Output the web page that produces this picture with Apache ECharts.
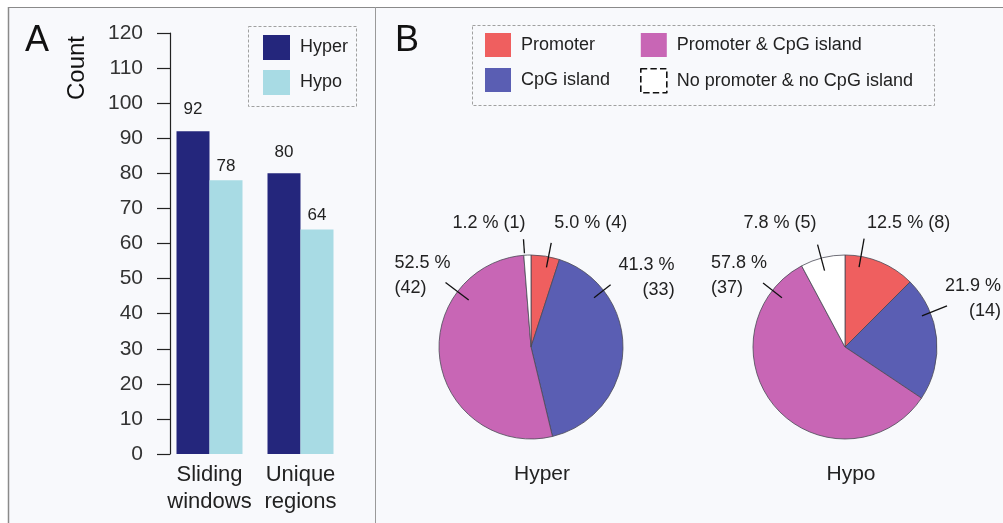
<!DOCTYPE html>
<html lang="en">
<head>
  <meta charset="UTF-8">
  <title>Hyper / Hypo regions</title>
  <script type="text/javascript" src="https://cdn.jsdelivr.net/npm/echarts@6/dist/echarts.min.js"></script>
  <style type="text/css">
    * {
      margin: 0;
      padding: 0;
    }

    html, body {
      width: 100%;
      height: 100%;
      background-color: #fff;
    }

    #chart {
      width: 1003px;
      height: 523px;
    }
  </style>
</head>

<body>
<div id="chart"></div>
</body>
<script type="text/javascript">
  // panel A: counts
  var barCategories = ['Sliding\nwindows', 'Unique\nregions'];
  var hyperCounts = [92, 80];
  var hypoCounts = [78, 64];

  // panel B: region types
  var regionTypes = ['Promoter', 'CpG island', 'Promoter & CpG island', 'No promoter & no CpG island'];
  var hyperRegions = [4, 33, 42, 1];
  var hypoRegions = [8, 14, 37, 5];

  var pieColors = ['#ef5f5f', '#5a5eb3', '#c866b5', '#ffffff'];
  var pieCenters = [[531, 347], [845, 347]];
  // leader line of each slice label: angle from 12 o'clock, inner/outer radius, gap to the text
  var pieLabelPlace = [
    [{a: 11, r0: 81, r1: 106, gap: 3}, {a: 52, r0: 80, r1: 101, gap: 8}, {a: -53, r0: 78, r1: 107, gap: 5}, {a: -4, r0: 94, r1: 108, gap: -2}],
    [{a: 10, r0: 81, r1: 110, gap: 3}, {a: 68, r0: 83, r1: 110, gap: -2}, {a: -52, r0: 80, r1: 104, gap: 4}, {a: -15, r0: 79, r1: 106, gap: 1}]
  ];
  var topLabelRise = 124;

  var font = 'Liberation Sans, Arial, sans-serif';

  function pieLabelText(k) {
    return function (p) {
      var pl = pieLabelPlace[k][p.dataIndex];
      var pct = p.percent.toFixed(1) + ' %';
      return Math.abs(pl.a) < 30 ? pct + ' (' + p.value + ')' : pct + '\n(' + p.value + ')';
    };
  }

  function pieLabelLayout(k) {
    return function (p) {
      var c = pieCenters[k], pl = pieLabelPlace[k][p.dataIndex];
      var rad = pl.a * Math.PI / 180, sx = Math.sin(rad), sy = -Math.cos(rad);
      var x0 = c[0] + pl.r0 * sx, y0 = c[1] + pl.r0 * sy;
      var x1 = c[0] + pl.r1 * sx, y1 = c[1] + pl.r1 * sy;
      var w = p.labelRect.width;
      var out = {labelLinePoints: [[x0, y0], [x1, y1]], verticalAlign: 'middle'};
      if (Math.abs(pl.a) < 30) {
        out.y = c[1] - topLabelRise;
        out.align = pl.a > 0 ? 'left' : 'right';
        out.x = pl.a > 0 ? x1 + pl.gap : x1 - pl.gap;
      } else {
        out.y = y1 - 7;
        if (pl.a > 0) {
          out.align = 'right';
          out.x = x1 + pl.gap + w;
        } else {
          out.align = 'left';
          out.x = x1 + pl.gap - w;
        }
      }
      return out;
    };
  }

  function pieData(values, transparent) {
    return regionTypes.map(function (n, i) {
      return {name: n, value: values[i], itemStyle: {color: transparent ? 'rgba(0,0,0,0)' : pieColors[i]}};
    });
  }

  // the visible pie
  function pieSeries(k, name, values) {
    return {
      type: 'pie',
      name: name,
      center: pieCenters[k],
      radius: [0, 92],
      startAngle: 90,
      clockwise: true,
      silent: true,
      itemStyle: {borderColor: '#4a4a55', borderWidth: 0.8},
      label: {show: false},
      labelLine: {show: false},
      data: pieData(values, false)
    };
  }

  // same slices again, transparent, on top: carries the labels so leader lines cross the pie
  function pieLabelSeries(k, name, values) {
    return {
      type: 'pie',
      name: name,
      z: 5,
      center: pieCenters[k],
      radius: [0, 92],
      startAngle: 90,
      clockwise: true,
      percentPrecision: 1,
      silent: true,
      itemStyle: {borderWidth: 0},
      label: {
        show: true,
        position: 'outside',
        overflow: 'none',
        fontSize: 18,
        lineHeight: 25,
        color: '#222',
        fontFamily: font,
        formatter: pieLabelText(k)
      },
      labelLine: {show: true, length: 10, length2: 0, lineStyle: {color: '#111', width: 1.3}},
      labelLayout: pieLabelLayout(k),
      data: pieData(values, true)
    };
  }

  var myChart = echarts.init(document.getElementById('chart'));
  var option = {
    animation: false,
    textStyle: {fontFamily: font},
    title: [
      {text: 'A', left: 20, top: 18, textStyle: {fontSize: 36, fontWeight: 'normal', color: '#111'}},
      {text: 'B', left: 390, top: 18, textStyle: {fontSize: 36, fontWeight: 'normal', color: '#111'}},
      {text: 'Hyper', left: 537, top: 459, textAlign: 'center', textStyle: {fontSize: 21, fontWeight: 'normal', color: '#222'}},
      {text: 'Hypo', left: 846, top: 459, textAlign: 'center', textStyle: {fontSize: 21, fontWeight: 'normal', color: '#222'}}
    ],
    graphic: [
      {type: 'rect', z: -10, shape: {x: 8, y: 7, width: 995, height: 516}, style: {fill: '#f8f9fc', stroke: null}},
      {type: 'line', shape: {x1: 8, y1: 7.5, x2: 1003, y2: 7.5}, style: {stroke: '#8a8a8a', lineWidth: 1.2}},
      {type: 'line', shape: {x1: 8.5, y1: 7, x2: 8.5, y2: 523}, style: {stroke: '#8a8a8a', lineWidth: 1.5}},
      {type: 'line', shape: {x1: 375.5, y1: 7, x2: 375.5, y2: 523}, style: {stroke: '#9a9a9a', lineWidth: 1}},
      {type: 'rect', shape: {x: 248.5, y: 26.5, width: 108, height: 80}, style: {fill: 'none', stroke: '#a0a0a0', lineWidth: 1, lineDash: [3, 2]}},
      {type: 'rect', shape: {x: 472.5, y: 25.5, width: 462, height: 80}, style: {fill: 'none', stroke: '#a0a0a0', lineWidth: 1, lineDash: [3, 2]}},
      {
        type: 'text', x: 77, y: 68, rotation: Math.PI / 2,
        style: {
          text: 'Count', fontSize: 24, fontFamily: font, fill: '#111',
          align: 'center', verticalAlign: 'middle', textAlign: 'center', textVerticalAlign: 'middle'
        }
      }
    ],
    legend: [
      {
        data: ['Hyper', 'Hypo'],
        orient: 'vertical', left: 263, top: 35, padding: 0,
        icon: 'rect', itemWidth: 27, itemHeight: 25, itemGap: 10,
        selectedMode: false,
        textStyle: {fontSize: 18, color: '#222', padding: [0, 0, 0, 5]}
      },
      {
        data: ['Promoter', 'CpG island'],
        orient: 'vertical', left: 485, top: 33, padding: 0,
        icon: 'rect', itemWidth: 26, itemHeight: 24, itemGap: 11,
        selectedMode: false,
        itemStyle: {borderWidth: 0},
        textStyle: {fontSize: 18, color: '#222', padding: [0, 0, 0, 5]}
      },
      {
        data: ['Promoter & CpG island', {
          name: 'No promoter & no CpG island',
          itemStyle: {color: '#fff', borderColor: '#111', borderWidth: 1.6, borderType: 'dashed'}
        }],
        orient: 'vertical', left: 640, top: 33, padding: 0,
        icon: 'rect', itemWidth: 26, itemHeight: 24, itemGap: 11,
        selectedMode: false,
        itemStyle: {borderWidth: 0},
        textStyle: {fontSize: 18, color: '#222', padding: [0, 0, 0, 5]}
      }
    ],
    grid: {left: 164, top: 33, width: 182, bottom: 69},
    xAxis: {
      type: 'category',
      data: barCategories,
      axisLine: {show: false},
      axisTick: {show: false},
      axisLabel: {fontSize: 22, lineHeight: 27, color: '#222', margin: 7, interval: 0}
    },
    yAxis: {
      type: 'value',
      min: 0,
      max: 120,
      interval: 10,
      offset: -6,
      splitLine: {show: false},
      axisLine: {show: true, lineStyle: {color: '#222', width: 1.2}},
      axisTick: {show: true, length: 13, lineStyle: {color: '#222', width: 1.2}},
      axisLabel: {fontSize: 21, color: '#333', margin: 27}
    },
    series: [
      {
        name: 'Hyper',
        type: 'bar',
        data: hyperCounts,
        barWidth: 33,
        barGap: '0%',
        itemStyle: {color: '#24267c'},
        label: {show: true, position: 'top', distance: 13, fontSize: 17, color: '#222'}
      },
      {
        name: 'Hypo',
        type: 'bar',
        data: hypoCounts,
        barWidth: 33,
        itemStyle: {color: '#a8dbe4'},
        label: {show: true, position: 'top', distance: 6, fontSize: 17, color: '#222'}
      },
      pieSeries(0, 'Hyper regions', hyperRegions),
      pieSeries(1, 'Hypo regions', hypoRegions),
      pieLabelSeries(0, 'Hyper labels', hyperRegions),
      pieLabelSeries(1, 'Hypo labels', hypoRegions)
    ]
  };
  myChart.setOption(option);
</script>
</html>
